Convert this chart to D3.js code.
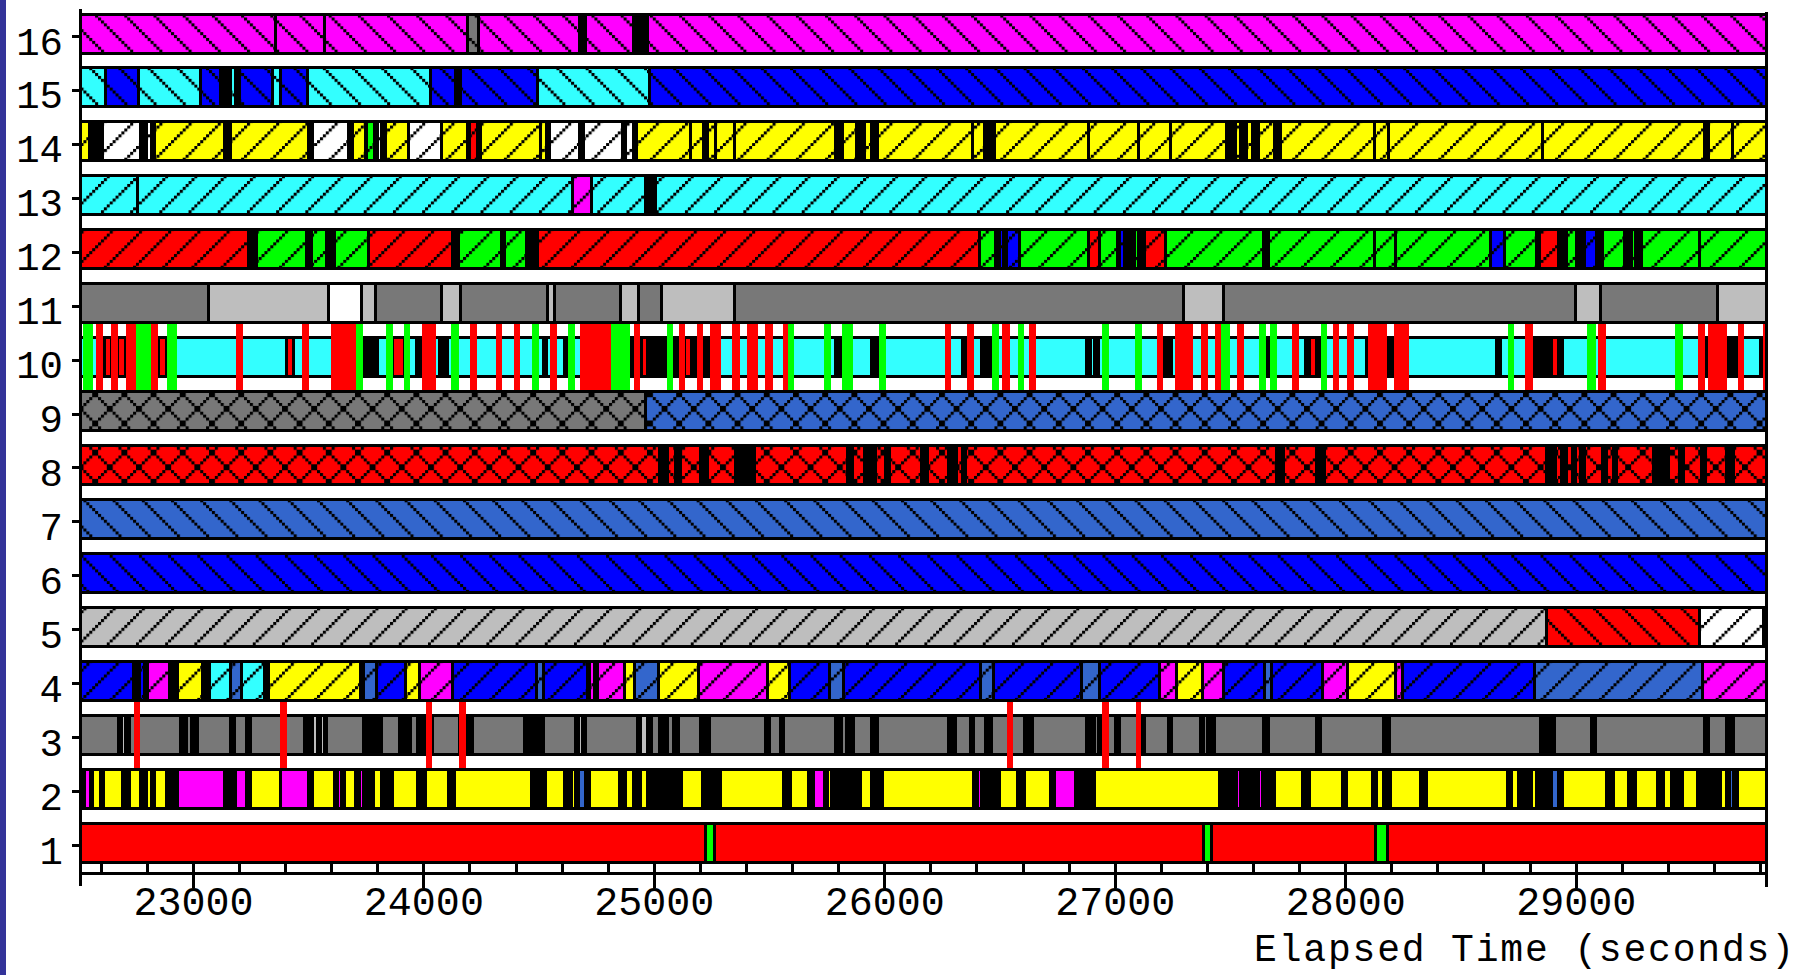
<!DOCTYPE html>
<html>
<head>
<meta charset="utf-8">
<script src="https://cdn.jsdelivr.net/npm/d3@7"></script>
<style>
  html, body { margin: 0; padding: 0; background: #fff; }
  svg { display: block; }
  text { font-family: "Liberation Mono", "DejaVu Sans Mono", monospace; fill: #000; }
</style>
</head>
<body>
<svg id="chart" width="1810" height="975"></svg>
<script>
// ---- processes (rows) and time axis ----
const rowIds = d3.range(16, 0, -1);                 // 16 at the top, 1 at the bottom
const timeDomain = [22510, 29826];
const majorTicks = d3.range(23000, 29001, 1000);
const minorTicks = d3.range(22600, 29801, 200);
const axisTitle = "Elapsed Time (seconds)";

// ---- state intervals per process: [start, end, state] ----
const row16 = [[22510,23358,'M'],[23358,23567,'M'],[23567,24190,'M'],[24190,24236,'DG'],[24236,24676,'M'],
  [24676,24700,'K'],[24700,24910,'M'],[24910,24970,'K'],[24970,29826,'M']];

const row15 = [[22510,22620,'C'],[22620,22760,'B'],[22760,23030,'C'],[23030,23118,'B'],[23118,23163,'K'],
  [23163,23183,'C'],[23183,23200,'K'],[23200,23345,'B'],[23345,23380,'C'],[23380,23495,'B'],[23495,24030,'C'],
  [24030,24136,'B'],[24136,24161,'K'],[24161,24495,'B'],[24495,24980,'C'],[24980,29826,'B']];

const row14 = [[22510,22551,'Y'],[22551,22564,'K'],[22564,22576,'W'],[22576,22606,'K'],[22606,22769,'W'],
  [22769,22797,'K'],[22797,22819,'W'],[22819,22830,'K'],[22830,23135,'Y'],[23135,23163,'K'],[23163,23501,'Y'],
  [23501,23517,'K'],[23517,23674,'W'],[23674,23690,'K'],[23690,23745,'Y'],[23745,23750,'K'],[23750,23787,'G'],
  [23787,23800,'K'],[23800,23817,'W'],[23817,23833,'K'],[23833,23934,'Y'],[23934,24077,'W'],[24077,24190,'Y'],
  [24190,24199,'K'],[24199,24232,'R'],[24232,24244,'K'],[24244,24508,'Y'],[24508,24532,'Y'],[24532,24543,'K'],
  [24543,24676,'W'],[24676,24693,'K'],[24693,24864,'W'],[24864,24877,'K'],[24877,24910,'W'],[24910,24922,'K'],
  [24922,25159,'Y'],[25159,25213,'Y'],[25213,25230,'K'],[25230,25264,'Y'],[25264,25346,'Y'],[25346,25787,'Y'],
  [25787,25815,'K'],[25815,25878,'Y'],[25878,25911,'K'],[25911,25941,'Y'],[25941,25970,'K'],[25970,26380,'Y'],
  [26380,26432,'Y'],[26432,26477,'K'],[26477,26884,'Y'],[26884,27103,'Y'],[27103,27240,'Y'],[27240,27481,'Y'],
  [27481,27523,'K'],[27523,27543,'Y'],[27543,27571,'K'],[27571,27594,'Y'],[27594,27621,'K'],[27621,27689,'Y'],
  [27689,27718,'K'],[27718,28123,'Y'],[28123,28185,'Y'],[28185,28852,'Y'],[28852,29558,'Y'],[29558,29573,'K'],
  [29573,29677,'Y'],[29677,29826,'Y']];

const row13 = [[22510,22757,'C'],[22757,24646,'C'],[24646,24728,'M'],[24728,24960,'C'],[24960,25005,'K'],
  [25005,29826,'C']];

const row12 = [[22510,23237,'R'],[23237,23250,'K'],[23250,23263,'B'],[23263,23274,'K'],[23274,23490,'G'],
  [23490,23512,'K'],[23512,23579,'G'],[23579,23612,'K'],[23612,23758,'G'],[23758,24125,'R'],[24125,24149,'K'],
  [24149,24335,'G'],[24335,24352,'K'],[24352,24445,'G'],[24445,24452,'K'],[24452,24469,'G'],[24469,24494,'K'],
  [24494,26413,'R'],[26413,26480,'G'],[26480,26497,'K'],[26497,26513,'B'],[26513,26527,'K'],[26527,26585,'B'],
  [26585,26884,'G'],[26884,26930,'R'],[26930,27010,'G'],[27010,27017,'K'],[27017,27039,'B'],[27039,27084,'K'],
  [27084,27100,'G'],[27100,27125,'K'],[27125,27218,'R'],[27218,27642,'G'],[27642,27667,'K'],[27667,28123,'G'],
  [28123,28215,'G'],[28215,28630,'G'],[28630,28690,'B'],[28690,28830,'G'],[28830,28842,'K'],[28842,28923,'R'],
  [28923,28957,'K'],[28957,29003,'G'],[29003,29037,'K'],[29037,29087,'B'],[29087,29113,'K'],[29113,29211,'G'],
  [29211,29240,'K'],[29240,29257,'G'],[29257,29282,'K'],[29282,29535,'G'],[29535,29826,'G']];

const row11 = [[22510,23064,'DG'],[23064,23584,'LG'],[23584,23728,'W'],[23728,23792,'LG'],[23792,24077,'DG'],
  [24077,24157,'LG'],[24157,24537,'DG'],[24537,24568,'LG'],[24568,24855,'DG'],[24855,24933,'LG'],
  [24933,25030,'DG'],[25030,25346,'LG'],[25346,27296,'DG'],[27296,27470,'LG'],[27470,28997,'DG'],
  [28997,29105,'LG'],[29105,29615,'DG'],[29615,29826,'LG']];

// process 10: a running bar, with blocked/busy pieces and short messages drawn across the whole lane
const row10 = [[22510,29826,'C']];
const row10Pieces = [[23737,23800,'K'],[23970,23991,'K'],[24518,24532,'K'],[24610,24627,'K'],[24894,24910,'K'],
  [24939,25055,'K'],[25083,25105,'K'],[25163,25183,'K'],[25210,25243,'K'],[25787,25812,'K'],[25941,25953,'K'],
  [26336,26352,'K'],[26419,26464,'K'],[26876,26893,'K'],[26909,26926,'K'],[27209,27242,'K'],[27642,27667,'K'],
  [27827,27841,'K'],[27875,27892,'K'],[28090,28098,'K'],[28179,28211,'K'],[28653,28670,'K'],[28813,28940,'K'],
  [29557,29574,'K'],[29654,29704,'K'],[29798,29814,'K'],
  [22614,22644,'R'],[22672,22706,'R'],[22847,22884,'R'],[23404,23434,'R'],[23865,23915,'R'],[24066,24078,'R'],
  [24088,24102,'R'],[24944,24972,'R'],[25133,25163,'R'],[25958,25970,'R'],[27844,27875,'R'],[28893,28923,'R']];
const row10Events = [[22520,22564,'G'],[22578,22609,'R'],[22644,22672,'R'],[22706,22752,'R'],[22752,22817,'G'],
  [22817,22847,'R'],[22884,22930,'G'],[23183,23213,'R'],[23471,23501,'R'],[23595,23704,'R'],[23704,23737,'G'],
  [23837,23865,'G'],[23915,23941,'G'],[23991,24053,'R'],[24119,24153,'G'],[24199,24231,'R'],[24311,24339,'R'],
  [24389,24419,'R'],[24469,24499,'G'],[24547,24577,'R'],[24627,24655,'G'],[24676,24814,'R'],[24814,24894,'G'],
  [24910,24939,'R'],[25055,25083,'G'],[25105,25133,'R'],[25183,25210,'R'],[25243,25288,'R'],[25338,25371,'R'],
  [25404,25449,'R'],[25482,25516,'R'],[25559,25579,'R'],[25579,25607,'G'],[25737,25765,'G'],[25815,25862,'G'],
  [25975,26006,'G'],[26261,26289,'R'],[26355,26385,'R'],[26464,26497,'G'],[26510,26544,'R'],[26577,26605,'G'],
  [26627,26655,'R'],[26943,26972,'G'],[27087,27114,'G'],[27180,27209,'R'],[27258,27338,'R'],[27371,27401,'R'],
  [27434,27461,'R'],[27461,27498,'G'],[27528,27557,'R'],[27625,27653,'G'],[27672,27701,'G'],[27768,27797,'R'],
  [27892,27921,'G'],[27943,27971,'R'],[28005,28034,'R'],[28098,28179,'R'],[28211,28276,'R'],[28703,28732,'G'],
  [28780,28813,'R'],[29048,29084,'G'],[29096,29130,'R'],[29431,29463,'G'],[29527,29557,'R'],[29574,29654,'R'],
  [29701,29730,'R'],[29810,29826,'R']];

const row9 = [[22510,24962,'DG'],[24962,29826,'SB']];

const row8 = [[22510,25022,'R'],[25022,25055,'K'],[25055,25090,'R'],[25090,25113,'K'],[25113,25200,'R'],
  [25200,25230,'K'],[25230,25354,'R'],[25354,25412,'K'],[25412,25424,'R'],[25424,25436,'K'],[25436,25837,'R'],
  [25837,25862,'K'],[25862,25911,'R'],[25911,25961,'K'],[25961,26003,'R'],[26003,26020,'K'],[26020,26161,'R'],
  [26161,26186,'K'],[26186,26277,'R'],[26277,26311,'K'],[26311,26336,'R'],[26336,26352,'K'],[26352,27701,'R'],
  [27701,27729,'K'],[27729,27875,'R'],[27875,27909,'K'],[27909,28873,'R'],[28873,28910,'K'],[28910,28935,'R'],
  [28935,28960,'K'],[28960,28986,'R'],[28986,28998,'K'],[28998,29020,'R'],[29020,29037,'K'],[29037,29113,'R'],
  [29113,29130,'K'],[29130,29160,'R'],[29160,29177,'K'],[29177,29336,'R'],[29336,29400,'K'],[29400,29448,'R'],
  [29448,29468,'K'],[29468,29544,'R'],[29544,29561,'K'],[29561,29654,'R'],[29654,29684,'K'],[29684,29826,'R']];

const row7 = [[22510,29826,'SB']];
const row6 = [[22510,29826,'B']];
const row5 = [[22510,28872,'LG'],[28872,29535,'R'],[29535,29815,'W']];

const row4 = [[22512,22739,'B'],[22739,22764,'K'],[22764,22789,'B'],[22789,22801,'K'],[22801,22897,'M'],
  [22897,22930,'K'],[22930,23038,'Y'],[23038,23068,'K'],[23068,23159,'C'],[23159,23207,'SB'],[23207,23308,'C'],
  [23308,23326,'K'],[23326,23725,'Y'],[23725,23737,'K'],[23737,23794,'SB'],[23794,23921,'B'],[23921,23981,'Y'],
  [23981,24126,'M'],[24126,24490,'B'],[24490,24520,'SB'],[24520,24708,'B'],[24708,24718,'K'],[24718,24740,'M'],
  [24740,24752,'K'],[24752,24870,'M'],[24870,24915,'Y'],[24915,25016,'SB'],[25016,25190,'Y'],[25190,25490,'M'],
  [25490,25585,'Y'],[25585,25760,'B'],[25760,25822,'SB'],[25822,26414,'B'],[26414,26470,'SB'],[26470,26855,'B'],
  [26855,26932,'SB'],[26932,27190,'B'],[27190,27265,'M'],[27265,27378,'Y'],[27378,27470,'M'],[27470,27646,'B'],
  [27646,27678,'SB'],[27678,27900,'B'],[27900,28010,'M'],[28010,28218,'Y'],[28218,28248,'M'],[28248,28820,'B'],
  [28820,29550,'SB'],[29550,29826,'M']];

const row3 = [[22510,22676,'DG'],[22676,22689,'K'],[22689,22706,'LG'],[22706,22722,'K'],[22722,22942,'DG'],
  [22942,22972,'K'],[22972,22993,'DG'],[22993,23018,'K'],[23018,23163,'DG'],[23163,23178,'K'],[23178,23230,'DG'],
  [23230,23246,'K'],[23246,23482,'DG'],[23482,23517,'K'],[23517,23537,'LG'],[23537,23551,'K'],[23551,23567,'LG'],
  [23567,23579,'K'],[23579,23737,'DG'],[23737,23817,'K'],[23817,23895,'DG'],[23895,23940,'K'],[23940,23973,'DG'],
  [23973,24036,'K'],[24036,24153,'DG'],[24153,24211,'K'],[24211,24435,'DG'],[24435,24452,'K'],[24452,24469,'LG'],
  [24469,24520,'K'],[24520,24656,'DG'],[24656,24671,'K'],[24671,24688,'LG'],[24688,24701,'K'],[24701,24927,'DG'],
  [24927,24939,'K'],[24939,24972,'LG'],[24972,24988,'K'],[24988,25022,'DG'],[25022,25055,'K'],[25055,25083,'DG'],
  [25083,25105,'K'],[25105,25200,'DG'],[25200,25241,'K'],[25241,25482,'DG'],[25482,25499,'K'],[25499,25546,'DG'],
  [25546,25559,'K'],[25559,25787,'DG'],[25787,25812,'K'],[25812,25832,'DG'],[25832,25865,'K'],[25865,25941,'DG'],
  [25941,25970,'K'],[25970,26277,'DG'],[26277,26307,'K'],[26307,26374,'DG'],[26374,26385,'K'],[26385,26435,'DG'],
  [26435,26464,'K'],[26464,26607,'DG'],[26607,26640,'K'],[26640,26876,'DG'],[26876,26909,'K'],[26909,26926,'DG'],
  [26926,26942,'K'],[26942,27001,'DG'],[27001,27017,'K'],[27017,27100,'DG'],[27100,27129,'K'],[27129,27229,'DG'],
  [27229,27242,'K'],[27242,27371,'DG'],[27371,27385,'K'],[27385,27401,'DG'],[27401,27430,'K'],[27430,27642,'DG'],
  [27642,27667,'K'],[27667,27875,'DG'],[27875,27892,'K'],[27892,28162,'DG'],[28162,28191,'K'],[28191,28845,'DG'],
  [28845,28906,'K'],[28906,29067,'DG'],[29067,29084,'K'],[29084,29557,'DG'],[29557,29573,'K'],[29573,29654,'DG'],
  [29654,29684,'K'],[29684,29826,'DG']];
const row3Events = [[22742,22767,'R'],[23376,23404,'R'],[24008,24036,'R'],[24153,24183,'R'],[26530,26557,'R'],
  [26942,26972,'R'],[27089,27112,'R']];

const row2 = [[22510,22526,'K'],[22526,22555,'M'],[22555,22564,'K'],[22564,22598,'Y'],[22598,22611,'K'],
  [22611,22692,'Y'],[22692,22722,'K'],[22722,22769,'Y'],[22769,22797,'K'],[22797,22819,'Y'],[22819,22830,'K'],
  [22830,22884,'Y'],[22884,22930,'K'],[22930,23135,'M'],[23135,23183,'K'],[23183,23230,'M'],[23230,23246,'K'],
  [23246,23380,'Y'],[23380,23501,'M'],[23501,23517,'K'],[23517,23612,'Y'],[23612,23624,'K'],[23624,23642,'M'],
  [23642,23657,'K'],[23657,23704,'Y'],[23704,23720,'K'],[23720,23740,'M'],[23740,23783,'K'],[23783,23817,'Y'],
  [23817,23865,'K'],[23865,23973,'Y'],[23973,24008,'K'],[24008,24106,'Y'],[24106,24133,'K'],[24133,24469,'Y'],
  [24469,24527,'K'],[24527,24610,'Y'],[24610,24640,'K'],[24640,24656,'Y'],[24656,24671,'K'],[24671,24701,'SB'],
  [24701,24718,'K'],[24718,24847,'Y'],[24847,24877,'K'],[24877,24910,'Y'],[24910,24942,'K'],[24942,24972,'Y'],
  [24972,25117,'K'],[25117,25210,'Y'],[25210,25288,'K'],[25288,25559,'Y'],[25559,25592,'K'],[25592,25670,'Y'],
  [25670,25690,'K'],[25690,25737,'M'],[25737,25753,'K'],[25753,25767,'Y'],[25767,25848,'K'],[25848,25862,'Y'],
  [25862,25895,'K'],[25895,25941,'Y'],[25941,25958,'K'],[25958,25970,'SB'],[25970,25990,'K'],[25990,26385,'Y'],
  [26385,26402,'K'],[26402,26419,'M'],[26419,26498,'K'],[26498,26577,'Y'],[26577,26607,'K'],[26607,26718,'Y'],
  [26718,26738,'K'],[26738,26826,'M'],[26826,26909,'K'],[26909,27452,'Y'],[27452,27528,'K'],[27528,27545,'M'],
  [27545,27621,'K'],[27621,27638,'M'],[27638,27689,'K'],[27689,27814,'Y'],[27814,27844,'K'],[27844,27988,'Y'],
  [27988,28005,'K'],[28005,28115,'Y'],[28115,28132,'K'],[28132,28166,'Y'],[28166,28194,'K'],[28194,28323,'Y'],
  [28323,28352,'K'],[28352,28702,'Y'],[28702,28719,'K'],[28719,28749,'Y'],[28749,28778,'K'],[28778,28791,'Y'],
  [28791,28805,'K'],[28805,28829,'Y'],[28829,28893,'K'],[28893,28923,'SB'],[28923,28940,'K'],[28940,29130,'Y'],
  [29130,29160,'K'],[29160,29228,'Y'],[29228,29256,'K'],[29256,29353,'Y'],[29353,29380,'K'],[29380,29414,'Y'],
  [29414,29463,'K'],[29463,29527,'Y'],[29527,29544,'K'],[29544,29557,'Y'],[29557,29625,'K'],[29625,29654,'Y'],
  [29654,29667,'K'],[29667,29684,'SB'],[29684,29701,'K'],[29701,29826,'Y']];

const row1 = [[22510,25224,'R'],[25224,25262,'G'],[25262,27382,'R'],[27382,27416,'G'],[27416,28128,'R'],
  [28128,28182,'G'],[28182,29826,'R']];

// ---- state colours and lane fill patterns ----
const palette = { M:'#ff00ff', C:'#33ffff', B:'#0000ff', Y:'#ffff00', W:'#ffffff', G:'#00ff00', R:'#ff0000',
  LG:'#bebebe', DG:'#787878', SB:'#3366cc', K:'#000000' };
const laneHatch = { 16:'back', 15:'back', 14:'fwd', 13:'fwd', 12:'fwd', 11:null, 10:null, 9:'cross', 8:'cross',
  7:'back', 6:'back', 5:'fwd', 4:'fwd', 3:null, 2:null, 1:null };
const hatchOverride = { 5: { R:'back' } };

const lanes = [
  [16,row16],[15,row15],[14,row14],[13,row13],[12,row12],[11,row11],[10,row10],[10,row10Pieces],
  [9,row9],[8,row8],[7,row7],[6,row6],[5,row5],[4,row4],[3,row3],[2,row2],[1,row1]
];
const laneEvents = [[10,row10Events],[3,row3Events]];

// ---- scales ----
const x = d3.scaleLinear().domain(timeDomain).range([80.5, 1766.5]);
const y = d3.scalePoint().domain(rowIds).range([33.5, 842.5]);

const svg = d3.select('#chart');
svg.append('rect').attr('width', 1810).attr('height', 975).attr('fill', '#fff');
svg.append('rect').attr('x', 0).attr('y', 0).attr('width', 6).attr('height', 975).attr('fill', '#333399');

// pixel-stepped hatch patterns
const defs = svg.append('defs');
const U = 2.92, P = U * 10;
function makePattern(id, cells) {
  const p = defs.append('pattern').attr('id', id).attr('patternUnits', 'userSpaceOnUse')
    .attr('x', x(timeDomain[0])).attr('y', 0).attr('width', P).attr('height', P);
  p.selectAll('rect').data(cells).join('rect')
    .attr('x', d => d[0] * U).attr('y', d => d[1] * U)
    .attr('width', U + 0.15).attr('height', U + 0.15).attr('fill', '#000');
}
makePattern('hatch-back', d3.range(10).map(i => [i, i]));
makePattern('hatch-fwd', d3.range(10).map(i => [i, 9 - i]));
makePattern('hatch-cross', d3.range(10).flatMap(i => [[i, i], [i, 9 - i]]));

const BAR_H = 39;   // fill height; the 3px outline brings the outer height to 42
function hatchFor(lane, state) {
  if (state === 'K') return null;
  const o = hatchOverride[lane];
  if (o && o[state]) return o[state];
  return laneHatch[lane];
}

const plot = svg.append('g').attr('shape-rendering', 'crispEdges');
lanes.forEach(([lane, segs]) => {
  const cy = y(lane);
  const g = plot.append('g');
  const X0 = d => x(d[0]);
  const W = d => Math.max(0.5, x(d[1]) - x(d[0]));
  g.append('g').selectAll('rect').data(segs).join('rect')
    .attr('x', X0).attr('width', W).attr('y', cy - BAR_H / 2).attr('height', BAR_H)
    .attr('fill', d => palette[d[2]]);
  g.append('g').selectAll('rect').data(segs.filter(d => hatchFor(lane, d[2]))).join('rect')
    .attr('x', X0).attr('width', W).attr('y', cy - BAR_H / 2).attr('height', BAR_H)
    .attr('fill', d => `url(#hatch-${hatchFor(lane, d[2])})`);
  g.append('g').selectAll('rect').data(segs).join('rect')
    .attr('x', X0).attr('width', W).attr('y', cy - BAR_H / 2).attr('height', BAR_H)
    .attr('fill', 'none').attr('stroke', '#000').attr('stroke-width', 3);
});

// short events spanning the full lane height
laneEvents.forEach(([lane, evs]) => {
  const cy = y(lane);
  plot.append('g').selectAll('rect').data(evs).join('rect')
    .attr('x', d => x(d[0])).attr('width', d => Math.max(1, x(d[1]) - x(d[0])))
    .attr('y', cy - 33).attr('height', 66)
    .attr('fill', d => palette[d[2]]);
});

// ---- axes ----
const axisG = svg.append('g').attr('shape-rendering', 'crispEdges').attr('stroke', '#000').attr('stroke-width', 3);
const xl = x(timeDomain[0]), xr = x(timeDomain[1]);
const yAxisLine = 873;
axisG.append('line').attr('x1', xl).attr('x2', xl).attr('y1', 9).attr('y2', 886);
axisG.append('line').attr('x1', xr).attr('x2', xr).attr('y1', 12).attr('y2', 887);
axisG.append('line').attr('x1', xl).attr('x2', xr).attr('y1', yAxisLine).attr('y2', yAxisLine);
axisG.append('g').selectAll('line').data(minorTicks).join('line')
  .attr('x1', d => x(d)).attr('x2', d => x(d)).attr('y1', 862).attr('y2', yAxisLine);
axisG.append('g').selectAll('line').data(majorTicks).join('line')
  .attr('x1', d => x(d)).attr('x2', d => x(d)).attr('y1', 862).attr('y2', 888);
axisG.append('g').selectAll('line').data(rowIds).join('line')
  .attr('x1', 72).attr('x2', xl).attr('y1', d => y(d) + 3).attr('y2', d => y(d) + 3);

svg.append('g').selectAll('text').data(majorTicks).join('text')
  .attr('x', d => x(d)).attr('y', 915).attr('text-anchor', 'middle')
  .attr('font-size', 40).text(d => d);

svg.append('g').selectAll('text').data(rowIds).join('text')
  .attr('x', 63).attr('y', d => y(d) + 21).attr('text-anchor', 'end')
  .attr('font-size', 39).text(d => d);

svg.append('text').attr('x', 1254).attr('y', 961)
  .attr('font-size', 38).attr('textLength', 540).attr('lengthAdjust', 'spacing')
  .text(axisTitle);
</script>
</body>
</html>
